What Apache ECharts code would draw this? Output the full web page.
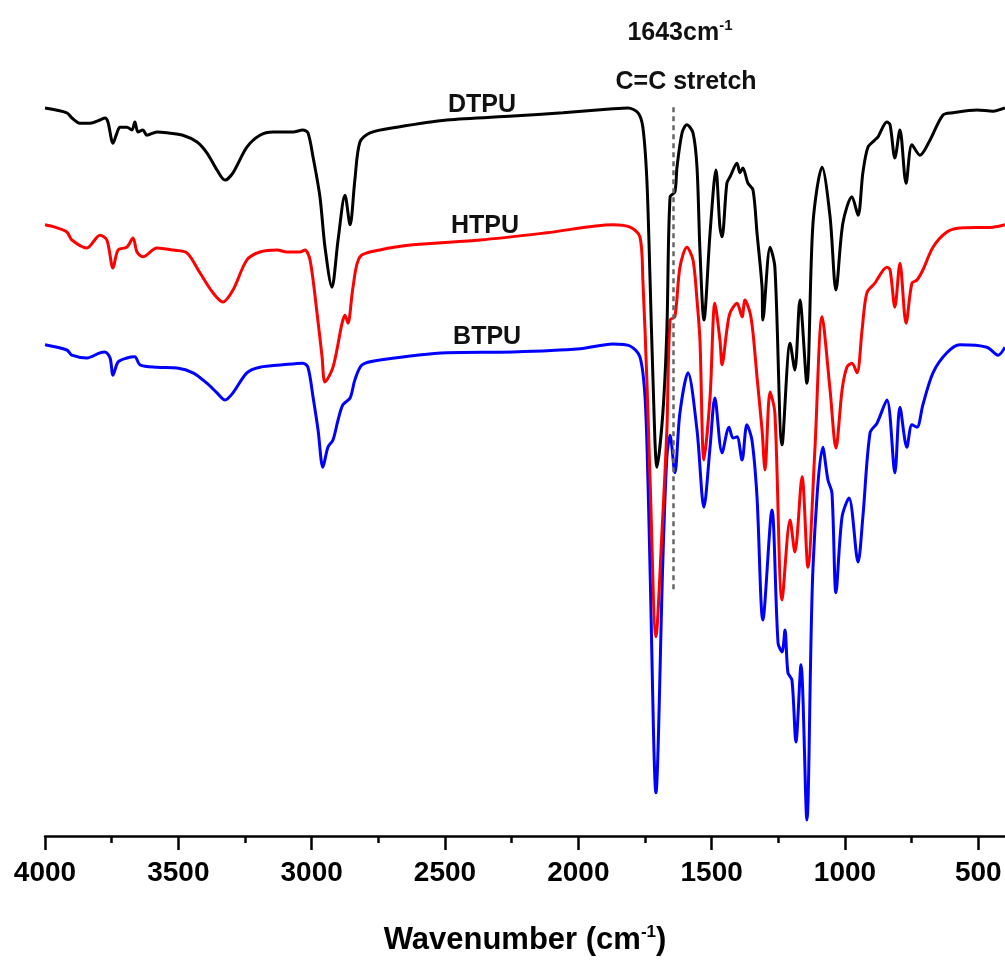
<!DOCTYPE html>
<html>
<head>
<meta charset="utf-8">
<script src="https://cdn.jsdelivr.net/npm/echarts@6/dist/echarts.min.js"></script>
<style>
html,body{margin:0;padding:0;background:#fff;}
#chart{width:1005px;height:961px;}
</style>
</head>
<body>
<div id="chart"></div>
<script>
// Wavenumber (cm-1), transmittance (a.u., offset traces)
const dtpu = [
[4000,91.0],[3918,90.4],[3899,89.75],[3869,89.1],[3831,89.1],[3794,89.5],[3775,89.75],[3764,89.25],
[3745,86.6],[3730,87.9],[3719,88.6],[3693,88.6],[3674,88.25],[3663,89.25],[3651,88.0],[3633,88.25],
[3618,87.6],[3580,88.0],[3543,87.9],[3483,87.6],[3430,86.75],[3393,85.4],[3355,83.25],[3325,82.0],
[3295,82.9],[3243,86.1],[3194,87.6],[3145,88.0],[3070,88.0],[3033,88.25],[3014,87.9],[2995,84.9],
[2969,79.9],[2950,73.6],[2924,68.6],[2901,74.5],[2875,80.1],[2856,76.4],[2838,82.0],[2819,86.75],
[2781,87.9],[2680,88.6],[2493,89.5],[2245,90.0],[2058,90.4],[1870,90.9],[1814,91.0],[1776,90.4],
[1758,88.6],[1743,82.0],[1731,69.5],[1720,57.0],[1705,46.1],[1683,52.9],[1668,63.25],[1656,79.9],
[1638,80.5],[1630,83.6],[1611,87.9],[1593,88.9],[1570,87.9],[1555,83.6],[1544,73.25],[1529,64.5],
[1506,75.4],[1484,83.25],[1469,76.1],[1461,74.9],[1443,81.6],[1431,82.4],[1405,84.1],[1394,82.9],
[1383,83.5],[1364,81.6],[1345,80.75],[1330,75.4],[1311,68.6],[1308,64.5],[1281,73.6],[1263,71.1],
[1236,48.9],[1206,61.6],[1188,58.25],[1169,67.0],[1143,56.6],[1120,76.6],[1086,83.6],[1056,77.4],
[1034,68.25],[1008,76.6],[974,79.9],[951,77.6],[933,82.9],[914,86.1],[888,87.0],[876,87.4],
[843,89.25],[831,88.9],[813,84.75],[794,88.25],[771,81.6],[749,86.4],[719,85.1],[681,87.0],
[633,90.1],[595,90.4],[505,90.75],[445,90.6],[400,91.0]
];
const htpu = [
[4000,76.4],[3963,76.1],[3918,75.5],[3899,74.5],[3843,73.5],[3794,75.1],[3768,74.5],[3745,71.0],
[3726,73.25],[3693,73.6],[3670,74.75],[3655,73.0],[3633,72.4],[3580,73.5],[3520,73.25],[3468,72.9],
[3419,70.4],[3370,67.9],[3333,66.75],[3295,68.25],[3243,72.0],[3194,73.0],[3130,73.25],[3093,73.0],
[3044,73.0],[3025,73.25],[3006,72.0],[2980,65.4],[2961,59.9],[2950,56.75],[2920,58.6],[2886,64.1],
[2875,65.1],[2864,64.1],[2845,68.6],[2819,72.4],[2744,73.25],[2620,73.9],[2369,74.5],[2118,75.4],
[1870,76.4],[1806,76.1],[1769,74.9],[1758,69.5],[1743,57.0],[1731,44.5],[1709,24.9],[1686,38.25],
[1668,50.75],[1656,64.5],[1638,64.9],[1619,71.1],[1593,73.6],[1570,72.0],[1555,67.0],[1544,62.0],
[1529,47.0],[1506,54.9],[1488,66.6],[1469,62.0],[1461,58.9],[1443,63.25],[1431,65.4],[1405,66.6],
[1386,64.9],[1375,67.0],[1356,65.4],[1345,62.9],[1330,57.4],[1311,50.75],[1300,45.75],[1281,55.5],
[1263,52.9],[1236,29.5],[1206,39.5],[1188,35.5],[1161,44.9],[1139,33.6],[1113,48.25],[1086,64.9],
[1056,55.75],[1034,48.5],[1011,55.75],[993,58.6],[974,59.1],[955,57.9],[936,63.25],[918,67.9],
[888,69.1],[843,71.1],[831,70.75],[813,66.1],[794,71.6],[771,64.1],[749,69.1],[730,69.5],
[708,70.75],[670,73.6],[618,75.5],[569,76.0],[445,76.1],[400,76.4]
];
const btpu = [
[4000,61.4],[3918,60.75],[3899,60.1],[3843,59.75],[3794,60.4],[3775,60.5],[3756,59.75],[3745,57.6],
[3726,59.25],[3693,59.75],[3663,59.9],[3644,58.9],[3580,58.6],[3505,58.5],[3445,57.9],[3393,56.6],
[3355,55.4],[3325,54.5],[3295,55.4],[3243,57.9],[3194,58.6],[3108,58.9],[3033,59.1],[3014,58.6],
[2995,54.9],[2976,50.75],[2958,46.1],[2939,48.6],[2920,49.5],[2901,52.0],[2883,53.9],[2856,54.75],
[2838,57.0],[2811,58.9],[2744,59.5],[2493,60.4],[2245,60.5],[1994,60.9],[1870,61.5],[1806,61.25],
[1769,59.9],[1750,54.9],[1739,44.5],[1731,33.25],[1709,5.4],[1683,34.5],[1668,47.4],[1656,50.1],
[1638,45.4],[1619,52.9],[1589,57.9],[1555,50.75],[1529,41.1],[1506,48.6],[1488,54.75],[1461,47.9],
[1435,51.1],[1420,49.75],[1405,49.9],[1386,47.0],[1368,51.4],[1349,49.5],[1330,42.4],[1308,27.0],
[1274,40.75],[1251,24.1],[1236,23.0],[1225,25.75],[1214,20.4],[1199,19.5],[1184,11.75],[1165,21.4],
[1143,2.0],[1120,33.6],[1083,48.6],[1064,44.5],[1049,42.9],[1034,30.4],[1011,39.9],[985,42.25],
[951,34.25],[933,39.9],[906,50.4],[880,51.6],[843,54.5],[813,45.4],[794,53.6],[768,48.6],
[749,51.4],[730,51.1],[708,53.9],[670,57.9],[618,60.4],[569,61.4],[468,61.1],[426,60.1],[400,61.1]
];
const seriesNames = ['DTPU','HTPU','BTPU'];
const seriesColors = ['#000000','#ff0000','#0000ff'];
const seriesLabelPos = [[2361,91.4],[2350,76.25],[2342,62.4]];
const majorTicks = [4000,3500,3000,2500,2000,1500,1000,500];
const minorTicks = [3750,3250,2750,2250,1750,1250,750];
const peakWavenumber = 1643;
const peakLineRange = [91.1, 30.4];
const annotations = [
  {text:'1643cm{s|-1}', pos:[1619,100.4]},
  {text:'C=C stretch', pos:[1596,94.25]}
];

const chart = echarts.init(document.getElementById('chart'), null, {renderer:'canvas'});
const font = 'Liberation Sans, Arial, sans-serif';
const datasets = [dtpu, htpu, btpu];

const labelPoint = (coord, text, size) => ({
  coord: coord,
  value: 0,
  symbol: 'circle',
  symbolSize: 1,
  itemStyle: {color: 'rgba(0,0,0,0)'},
  label: {
    show: true, position: 'inside', formatter: text, color: '#111',
    fontFamily: font, fontWeight: 'bold', fontSize: size,
    rich: {s: {fontSize: Math.round(size*0.6), fontWeight: 'bold', fontFamily: font, color: '#111', verticalAlign: 'top', padding: [0,0,Math.round(size*0.55),0]}}
  }
});

const series = datasets.map((d, i) => ({
  name: seriesNames[i],
  type: 'line',
  data: d,
  showSymbol: false,
  smooth: 0.3,
  clip: false,
  z: 3 - i,
  lineStyle: {color: seriesColors[i], width: 3},
  itemStyle: {color: seriesColors[i]},
  markPoint: {
    silent: true,
    data: [labelPoint(seriesLabelPos[i], seriesNames[i], 25)]
  }
}));

series.push({
  type: 'line',
  data: [],
  markLine: {
    silent: true,
    symbol: ['none','none'],
    label: {show: false},
    lineStyle: {color: '#666', type: [5,4], width: 2.5},
    data: [[{coord:[peakWavenumber, peakLineRange[0]]},{coord:[peakWavenumber, peakLineRange[1]]}]]
  },
  markPoint: {
    silent: true,
    data: annotations.map(a => labelPoint(a.pos, a.text, 25))
  }
});

chart.setOption({
  animation: false,
  backgroundColor: '#ffffff',
  grid: {left: 45, right: 0, top: 0, bottom: 125, containLabel: false},
  xAxis: [{
    type: 'value',
    inverse: true,
    min: 400,
    max: 4000,
    position: 'bottom',
    name: 'Wavenumber (cm{s|-1})',
    nameLocation: 'middle',
    nameGap: 88,
    nameTextStyle: {
      fontFamily: font, fontWeight: 'bold', fontSize: 31, color: '#000', verticalAlign: 'top',
      rich: {s: {fontFamily: font, fontWeight: 'bold', fontSize: 17, color: '#000', verticalAlign: 'top', padding: [0,0,16,0]}}
    },
    axisLine: {show: true, onZero: false, lineStyle: {color: '#000', width: 2.5}},
    axisTick: {show: true, inside: false, length: 14, lineStyle: {color: '#000', width: 2.5}, customValues: majorTicks},
    axisLabel: {show: true, customValues: majorTicks, formatter: v => String(v), margin: 23, color: '#000', fontFamily: font, fontWeight: 'bold', fontSize: 28},
    splitLine: {show: false}
  }, {
    type: 'value',
    inverse: true,
    min: 400,
    max: 4000,
    position: 'bottom',
    offset: 0,
    axisLine: {show: false},
    axisTick: {show: true, inside: false, length: 7, lineStyle: {color: '#000', width: 2.5}, customValues: minorTicks},
    axisLabel: {show: false},
    splitLine: {show: false}
  }],
  yAxis: {type: 'value', min: 0, max: 104.5, show: false, splitLine: {show: false}},
  series: series
});
</script>
</body>
</html>
